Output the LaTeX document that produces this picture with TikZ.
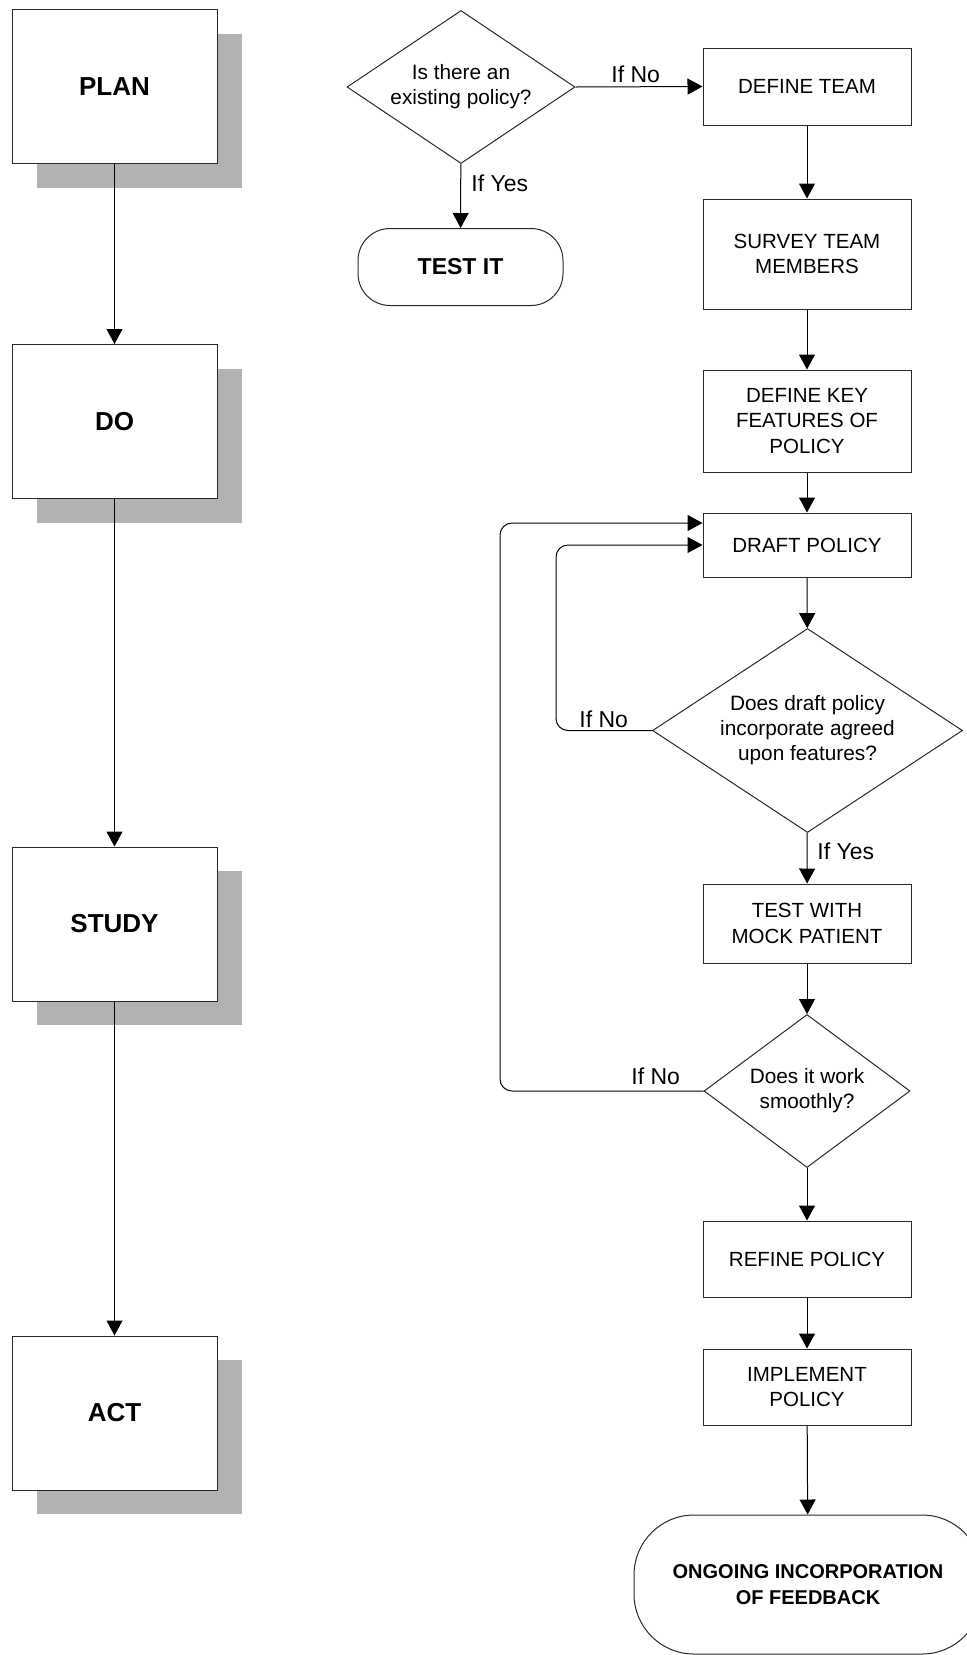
\documentclass[tikz,border=0pt]{standalone}
\usepackage{fontspec}
\setmainfont{Liberation Sans}
\usetikzlibrary{shapes.geometric,arrows.meta,shadows,positioning}
\definecolor{ShadowGray}{RGB}{178,178,178}
\definecolor{LineGray}{RGB}{40,40,40}
\tikzset{
  phase/.style={draw=LineGray,fill=white,minimum width=102.5pt,minimum height=77pt,
                font=\fontsize{13}{15}\selectfont\bfseries,line width=0.5pt,
                drop shadow={shadow xshift=12.5pt,shadow yshift=-12pt,fill=ShadowGray,opacity=1}},
  stepbox/.style={draw=LineGray,fill=white,minimum width=104pt,inner sep=0pt,
                  align=center,font=\fontsize{10.25}{12.8}\selectfont,line width=0.5pt},
  decide/.style={draw=LineGray,fill=white,diamond,aspect=1.5,inner sep=0pt,align=center,
                 font=\fontsize{10.4}{12.5}\selectfont,line width=0.5pt},
  term/.style={draw=LineGray,fill=white,align=center,inner sep=0pt,line width=0.5pt,
               font=\bfseries},
  lbl/.style={anchor=base west,inner sep=0pt,font=\fontsize{11.5}{13.5}\selectfont},
  arr/.style={-{Triangle[length=7.5pt,width=8pt]},line width=0.5pt},
}

\begin{document}
\begin{tikzpicture}[x=0.5pt,y=-0.5pt]
  \useasboundingbox (0,0) rectangle (967,1655);
  \clip (0,0) rectangle (967,1655);

  % PDSA phases on the left
  \node[phase] (plan) at (114.5,86.5) {PLAN};
  \node[phase] (do) at (114.5,421.5) {DO};
  \node[phase] (study) at (114.5,924) {STUDY};
  \node[phase] (act) at (114.5,1413) {ACT};
  \draw[arr] (plan) -- (do);
  \draw[arr] (do) -- (study);
  \draw[arr] (study) -- (act);

  % Existing policy check
  \node[decide, minimum width=114pt, minimum height=76.5pt] (exist) at (461,87) {Is there an\\existing policy?};
  \node[term, rounded corners=16pt, minimum width=102.5pt, minimum height=38.5pt,
        font=\fontsize{11.5}{13.5}\selectfont\bfseries] (testit) at (460.5,267) {TEST IT};

  % Policy development steps
  \node[stepbox, minimum height=38.5pt] (team) at (807,86.5) {DEFINE TEAM};
  \node[stepbox, minimum height=55pt] (survey) at (807,254) {SURVEY TEAM\\MEMBERS};
  \node[stepbox, minimum height=51pt] (keyfeat) at (807,421) {DEFINE KEY\\FEATURES OF\\POLICY};
  \node[stepbox, minimum height=32pt] (draft) at (807,545) {DRAFT POLICY};
  \node[decide, minimum width=155pt, minimum height=102pt] (agreed) at (807.5,730.5) {Does draft policy\\incorporate agreed\\upon features?};
  \node[stepbox, minimum height=39.5pt] (mock) at (807,923.5) {TEST WITH\\MOCK PATIENT};
  \node[decide, minimum width=103pt, minimum height=76.5pt] (smooth) at (807,1091) {Does it work\\smoothly?};
  \node[stepbox, minimum height=38pt] (refine) at (807,1259) {REFINE POLICY};
  \node[stepbox, minimum height=38pt] (implement) at (807,1387) {IMPLEMENT\\POLICY};
  \node[term, rounded corners=30pt, minimum width=174pt, minimum height=69.5pt,
        font=\fontsize{10}{13}\selectfont\bfseries] (ongoing) at (808,1584.5) {ONGOING INCORPORATION\\OF FEEDBACK};

  % Connectors
  \draw[arr] (exist) -- (testit);
  \draw[arr] (exist.east) -- (team.west);
  \draw[arr] (team) -- (survey);
  \draw[arr] (survey) -- (keyfeat);
  \draw[arr] (keyfeat) -- (draft);
  \draw[arr] (draft) -- (agreed);
  \draw[arr] (agreed) -- (mock);
  \draw[arr] (mock) -- (smooth);
  \draw[arr] (smooth) -- (refine);
  \draw[arr] (refine) -- (implement);
  \draw[arr] (implement) -- (ongoing);

  % Loops back to the draft
  \coordinate (inner) at (556,545);
  \coordinate (outer) at (500,523);
  \draw[arr, rounded corners=6pt] (agreed.west) -| (inner) -- (draft.west);
  \draw[arr, rounded corners=6pt] (smooth.west) -| (outer) -- (draft.west |- outer);

  % Branch labels
  \node[lbl] (ifnoA) at (611,82) {If No};
  \node[lbl] (ifyesA) at (471,191) {If Yes};
  \node[lbl] (ifnoB) at (579,727) {If No};
  \node[lbl] (ifyesB) at (817,859) {If Yes};
  \node[lbl] (ifnoC) at (631,1084) {If No};
\end{tikzpicture}
\end{document}
